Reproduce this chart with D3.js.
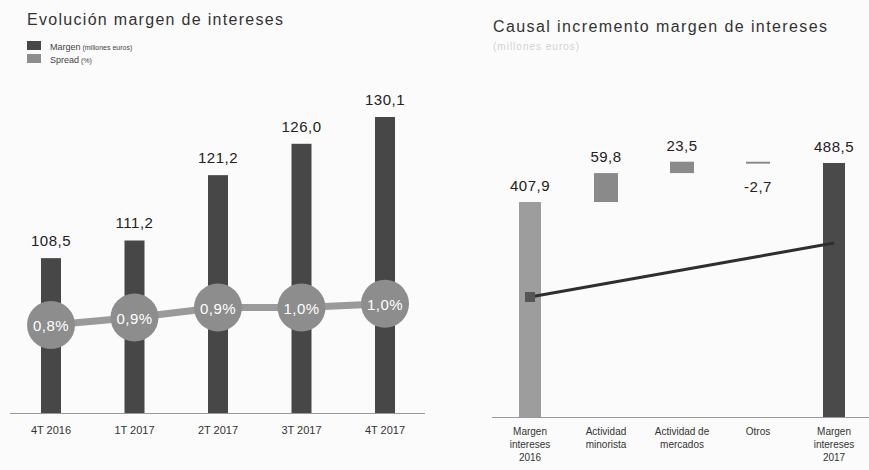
<!DOCTYPE html>
<html>
<head>
<meta charset="utf-8">
<script src="https://cdn.jsdelivr.net/npm/d3@7"></script>
<style>
  body { margin: 0; background: #fbfbfb; }
  text { font-family: "Liberation Sans", Arial, sans-serif; }
</style>
</head>
<body>
<div id="chart"></div>
<script>

// left chart data
var quarters = ["4T 2016", "1T 2017", "2T 2017", "3T 2017", "4T 2017"]
var margen = [108.5, 111.2, 121.2, 126.0, 130.1]
var spread = [0.80, 0.86, 0.94, 0.94, 0.97]
var spreadLabels = ["0,8%", "0,9%", "0,9%", "1,0%", "1,0%"]

// right chart data
var steps = ["Margen|intereses|2016", "Actividad|minorista", "Actividad de|mercados", "Otros", "Margen|intereses|2017"]
var stepValues = [407.9, 59.8, 23.5, -2.7, 488.5]
var stepLabels = ["407,9", "59,8", "23,5", "-2,7", "488,5"]
var spreadEnds = [0.8, 1.0]

var width = 869,
    height = 470

var svg = d3.select("#chart")
  .append("svg")
  .attr("width", width)
  .attr("height", height)

var dark = "#474747",
    mid = "#8d8d8d"

// ---------- left: Evolución margen de intereses ----------
svg.append("text")
  .attr("x", 27).attr("y", 25)
  .attr("font-size", 16).attr("fill", "#333")
  .attr("textLength", 256).attr("lengthAdjust", "spacing")
  .text("Evolución margen de intereses")

var legend = [["Margen", " (millones euros)", dark], ["Spread", " (%)", mid]]
legend.forEach(function(l, i) {
  var g = svg.append("g").attr("transform", "translate(27," + (41 + i * 13) + ")")
  g.append("rect").attr("width", 14).attr("height", 9).attr("fill", l[2])
  var t = g.append("text").attr("x", 23).attr("y", 8.5).attr("fill", "#444")
  t.append("tspan").attr("font-size", 9).text(l[0])
  t.append("tspan").attr("font-size", 7).text(l[1])
})

var x = d3.scalePoint().domain(quarters).range([51, 385])
var y = d3.scaleLinear().domain([84.8, 130.1]).range([413, 117])
var y2 = d3.scaleLinear().domain([0.8, 1.0]).range([325, 300])

svg.selectAll(".bar")
  .data(margen)
  .enter()
  .append("rect")
  .attr("x", function(d, i) { return x(quarters[i]) - 10 })
  .attr("y", function(d) { return y(d) })
  .attr("width", 20)
  .attr("height", function(d) { return y.range()[0] - y(d) })
  .attr("fill", dark)

svg.selectAll(".barlabel")
  .data(margen)
  .enter()
  .append("text")
  .attr("x", function(d, i) { return x(quarters[i]) })
  .attr("y", function(d) { return y(d) - 12 })
  .attr("text-anchor", "middle")
  .attr("font-size", 15)
  .attr("letter-spacing", 0.5)
  .attr("fill", "#222")
  .text(function(d) { return d.toFixed(1).replace(".", ",") })

svg.append("line")
  .attr("x1", 10).attr("x2", 425)
  .attr("y1", 413.5).attr("y2", 413.5)
  .attr("stroke", "#999")

svg.selectAll(".qlabel")
  .data(quarters)
  .enter()
  .append("text")
  .attr("x", function(d) { return x(d) })
  .attr("y", 434)
  .attr("text-anchor", "middle")
  .attr("font-size", 11)
  .attr("fill", "#333")
  .text(function(d) { return d })

svg.append("path")
  .datum(spread)
  .attr("d", d3.line()
    .x(function(d, i) { return x(quarters[i]) })
    .y(function(d) { return y2(d) }))
  .attr("fill", "none")
  .attr("stroke", "#9a9a9a")
  .attr("stroke-width", 7)

svg.selectAll(".dot")
  .data(spread)
  .enter()
  .append("circle")
  .attr("cx", function(d, i) { return x(quarters[i]) })
  .attr("cy", function(d) { return y2(d) })
  .attr("r", 24)
  .attr("fill", mid)

svg.selectAll(".dotlabel")
  .data(spread)
  .enter()
  .append("text")
  .attr("x", function(d, i) { return x(quarters[i]) })
  .attr("y", function(d) { return y2(d) + 6 })
  .attr("text-anchor", "middle")
  .attr("font-size", 15)
  .attr("letter-spacing", 0.5)
  .attr("fill", "#fff")
  .text(function(d, i) { return spreadLabels[i] })

// ---------- right: Causal incremento margen de intereses ----------
svg.append("text")
  .attr("x", 493).attr("y", 32)
  .attr("font-size", 16).attr("fill", "#333")
  .attr("textLength", 334).attr("lengthAdjust", "spacing")
  .text("Causal incremento margen de intereses")

svg.append("text")
  .attr("x", 493).attr("y", 50)
  .attr("font-size", 10).attr("fill", "#d2d2d2")
  .attr("letter-spacing", 1)
  .text("(millones euros)")

var xr = d3.scalePoint().domain(steps).range([530, 834])
var yr = d3.scaleLinear().domain([-36, 488.5]).range([417, 163])
var ys = d3.scaleLinear().domain([0.8, 1.0]).range([297, 243])

// build waterfall pieces
var running = 0
var pieces = stepValues.map(function(v, i) {
  var p
  if (i == 0 || i == stepValues.length - 1) {
    p = { lo: yr.domain()[0], hi: v, total: true }
    running = v
  } else {
    p = { lo: Math.min(running, running + v), hi: Math.max(running, running + v), total: false }
    running += v
  }
  p.key = steps[i]
  p.label = stepLabels[i]
  p.neg = v < 0
  return p
})

var colors = ["#9d9d9d", "#8a8a8a", "#8a8a8a", "#8a8a8a", "#4a4a4a"]

svg.selectAll(".wbar")
  .data(pieces)
  .enter()
  .append("rect")
  .attr("x", function(d) { return xr(d.key) - (d.total ? 11 : 12) })
  .attr("y", function(d) { return yr(d.hi) })
  .attr("width", function(d) { return d.total ? 22 : 24 })
  .attr("height", function(d) { return Math.max(yr(d.lo) - yr(d.hi), 2) })
  .attr("fill", function(d, i) { return colors[i] })

svg.selectAll(".wlabel")
  .data(pieces)
  .enter()
  .append("text")
  .attr("x", function(d) { return xr(d.key) })
  .attr("y", function(d) { return d.neg ? yr(d.lo) + 29 : yr(d.hi) - 11 })
  .attr("text-anchor", "middle")
  .attr("font-size", 15)
  .attr("letter-spacing", 0.5)
  .attr("fill", "#222")
  .text(function(d) { return d.label })

svg.append("line")
  .attr("x1", 492).attr("x2", 869)
  .attr("y1", 417.5).attr("y2", 417.5)
  .attr("stroke", "#999")

var ends = [steps[0], steps[steps.length - 1]]
svg.append("path")
  .datum(spreadEnds)
  .attr("d", d3.line()
    .x(function(d, i) { return xr(ends[i]) })
    .y(function(d) { return ys(d) }))
  .attr("stroke", "#2e2e2e")
  .attr("stroke-width", 3)

svg.append("rect")
  .attr("x", xr(ends[0]) - 5).attr("y", ys(spreadEnds[0]) - 5)
  .attr("width", 10).attr("height", 10)
  .attr("fill", "#555")

var cat = svg.selectAll(".slabel")
  .data(steps)
  .enter()
  .append("text")
  .attr("text-anchor", "middle")
  .attr("font-size", 10)
  .attr("fill", "#333")

cat.selectAll("tspan")
  .data(function(d) { return d.split("|").map(function(t) { return [d, t] }) })
  .enter()
  .append("tspan")
  .attr("x", function(d) { return xr(d[0]) })
  .attr("y", function(d, i) { return 435 + i * 13 })
  .text(function(d) { return d[1] })

</script>
</body>
</html>
